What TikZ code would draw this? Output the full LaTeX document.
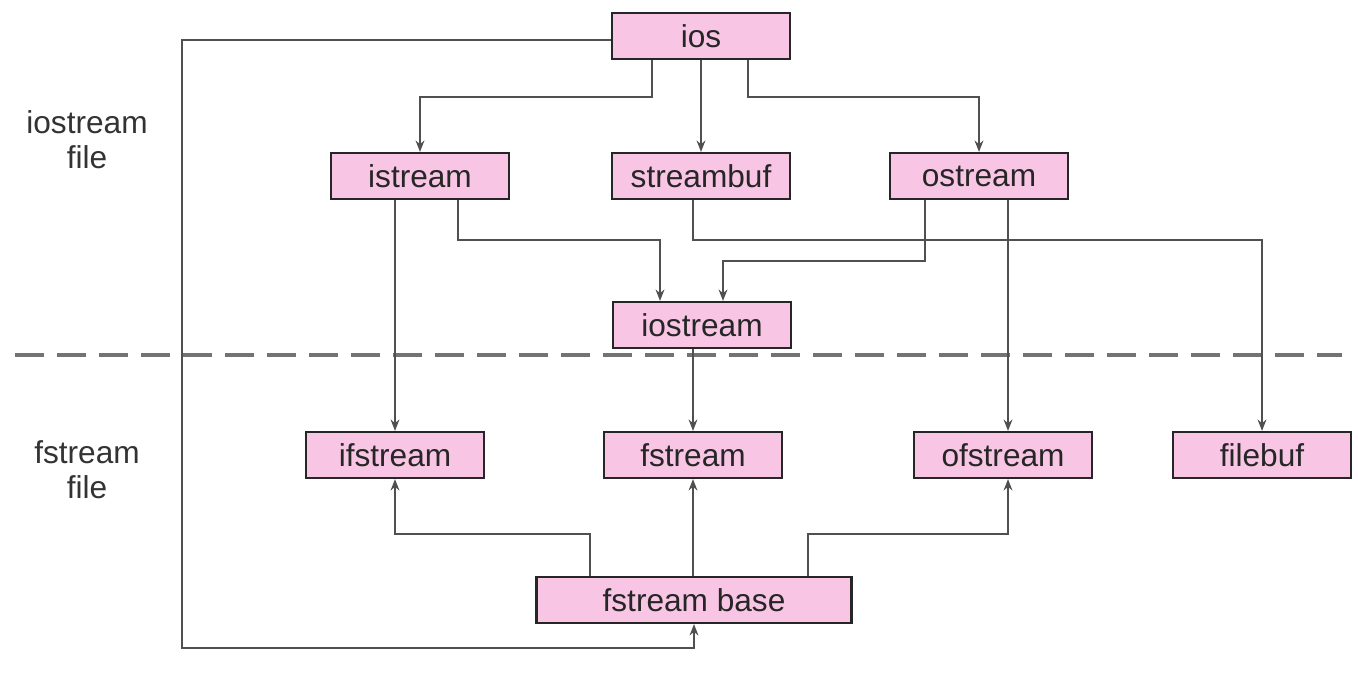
\documentclass[tikz,border=0pt]{standalone}
\usepackage{fontspec}
\setmainfont{Liberation Sans}
\usetikzlibrary{arrows.meta}

\definecolor{classpink}{RGB}{248,198,228}
\definecolor{wiregray}{RGB}{80,80,80}

\begin{document}
\begin{tikzpicture}[
  x=0.02cm, y=-0.02cm,
  >={Stealth[length=6.5pt, width=5pt, fill=black!90]},
  cls/.style={
    draw=black!85, fill=classpink, line width=1.2pt,
    minimum width=3.56cm, minimum height=0.92cm, inner sep=0pt,
    font=\fontsize{18}{21}\selectfont, text=black!85
  },
  link/.style={->, draw=wiregray, line width=1.3pt},
  side/.style={font=\fontsize{18}{20}\selectfont, align=center, text=black!80},
  divider/.style={draw=black!55, line width=1.8pt,
    dash pattern=on 0.58cm off 0.26cm},
]

%%% Page frame
\useasboundingbox (0,0) rectangle (1358,677);

%%% Section labels
\node[side] (lblio) at (87,140) {iostream\\file};
\node[side] (lblfs) at (87,470) {fstream\\file};

%%% Split between the two headers
\draw[divider] (15,355) -- (1342,355);

%%% iostream classes
\node[cls] (ios)       at (701,36)  {ios};
\node[cls] (istream)   at (420,176) {istream};
\node[cls] (streambuf) at (701,176) {streambuf};
\node[cls] (ostream)   at (979,176) {ostream};
\node[cls] (iostream)  at (702,325) {iostream};

%%% fstream classes
\node[cls] (ifstream)  at (395,455)  {ifstream};
\node[cls] (fstream)   at (693,455)  {fstream};
\node[cls] (ofstream)  at (1003,455) {ofstream};
\node[cls] (filebuf)   at (1262,455) {filebuf};
\node[cls, minimum width=6.3cm] (fbase) at (694,600) {fstream base};

%%% ios -> first level
\draw[link] ([xshift=-0.98cm]ios.south) -- ++(0,37) -| (istream.north);
\draw[link] (ios.south) -- (streambuf.north);
\draw[link] ([xshift=0.94cm]ios.south) -- ++(0,37) -| (ostream.north);

%%% ios -> fstream base, round the left side
\draw[link] ([yshift=-0.08cm]ios.west) -| ++(-429,608) -| (fbase.south);

%%% first level -> iostream / fstream classes
\draw[link] (ifstream.north |- istream.south) -- (ifstream.north);
\draw[link] ([xshift=0.76cm]istream.south) -- ++(0,40)
  -| ([xshift=-0.84cm]iostream.north);
\draw[link] ([xshift=-0.16cm]streambuf.south) -- ++(0,40) -| (filebuf.north);
\draw[link] ([xshift=-1.08cm]ostream.south) -- ++(0,61)
  -| ([xshift=0.42cm]iostream.north);
\draw[link] ([xshift=0.1cm]ofstream.north |- ostream.south)
  -- ([xshift=0.1cm]ofstream.north);
\draw[link] (fstream.north |- iostream.south) -- (fstream.north);

%%% fstream base -> file streams
\draw[link] ([xshift=-2.08cm]fbase.north) -- ++(0,-42) -| (ifstream.south);
\draw[link] (fstream.south |- fbase.north) -- (fstream.south);
\draw[link] ([xshift=2.28cm]fbase.north) -- ++(0,-42)
  -| ([xshift=0.1cm]ofstream.south);

\end{tikzpicture}
\end{document}
